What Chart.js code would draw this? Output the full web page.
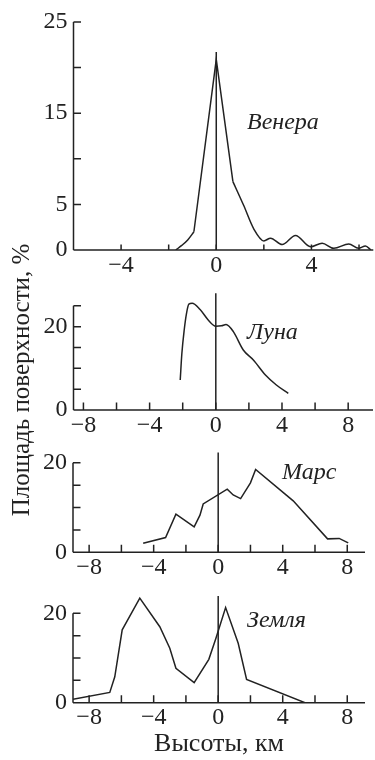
<!DOCTYPE html>
<html><head><meta charset="utf-8">
<script src="https://cdn.jsdelivr.net/npm/chart.js@4.4.1/dist/chart.umd.min.js"></script>
<style>
html,body{margin:0;padding:0;background:#fff;}
body{width:375px;height:760px;position:relative;overflow:hidden;font-family:"Liberation Serif",serif;}
canvas{position:absolute;left:0;}
#ytitle{position:absolute;left:-179px;top:365px;width:400px;height:30px;line-height:30px;text-align:center;font-size:25px;transform:rotate(-90deg);white-space:nowrap;color:#222;font-family:"Liberation Serif",serif;}
</style></head><body>
<canvas id="c0" width="375" height="285" style="top:0px;width:375px;height:285px"></canvas>
<canvas id="c1" width="375" height="155" style="top:285px;width:375px;height:155px"></canvas>
<canvas id="c2" width="375" height="150" style="top:440px;width:375px;height:150px"></canvas>
<canvas id="c3" width="375" height="170" style="top:590px;width:375px;height:170px"></canvas>
<div id="ytitle">Площадь поверхности, %</div>
<script>
// ---- data ----
const panelNames = ['Венера', 'Луна', 'Марс', 'Земля'];
const xTitle = 'Высоты, км';

const venusTailX = [-1.7, -1.45, -1.2, -0.94];
const venusTailY = [0, 0.5, 1.1, 2.0];
const venusPeakX = [-0.94, 0, 0.7];
const venusPeakY = [2.0, 20.9, 7.5];
const venusWaveX = [0.7, 1.15, 1.58, 2.0, 2.28, 2.77, 3.33, 3.96, 4.45, 4.94, 5.57, 5.98, 6.27, 6.5];
const venusWaveY = [7.5, 4.9, 2.3, 1.0, 1.3, 0.6, 1.6, 0.35, 0.75, 0.18, 0.66, 0.18, 0.44, 0];

const moonX = [-2.15, -2.05, -1.91, -1.77, -1.63, -1.43, -0.95, -0.46, 0, 0.34, 0.62, 1.06, 1.66, 2.27, 3.0, 3.66, 4.38];
const moonY = [7.2, 13.6, 19.2, 23.2, 25.4, 25.6, 24.1, 21.6, 20.1, 20.2, 20.5, 18.8, 14.4, 12.0, 8.4, 6.0, 4.0];

const marsX = [-4.65, -3.26, -2.62, -1.49, -1.13, -0.93, 0.56, 0.93, 1.39, 2.0, 2.32, 4.65, 6.78, 7.5, 8.06];
const marsY = [2.0, 3.3, 8.5, 5.7, 8.3, 10.8, 14.1, 12.8, 12.0, 15.5, 18.5, 11.5, 3.0, 3.1, 2.1];

const earthX = [-9.0, -6.72, -6.41, -5.95, -4.86, -3.62, -3.0, -2.62, -1.49, -0.58, -0.14, 0.46, 1.24, 1.76, 5.38];
const earthY = [0.75, 2.3, 5.8, 16.3, 23.4, 17.0, 12.2, 7.7, 4.5, 9.7, 14.4, 21.3, 13.3, 5.2, 0];

// height of the vertical reference line at 0 km, per panel
const zeroLineTop = [21.7, 28, 22.3, 23.9];

const venusXTicks = [-6, -4, -2, 0, 2, 4, 6];
const venusXLabels = [-4, 0, 4];
const wideXTicks = [-8, -6, -4, -2, 0, 2, 4, 6, 8];
const wideXLabels = [-8, -4, 0, 4, 8];
const venusYTicks = [0, 5, 10, 15, 20, 25];
const venusYLabels = [0, 5, 15, 25];
const moonYTicks = [0, 5, 10, 15, 20, 25];
const smallYTicks = [0, 5, 10, 15, 20];
const smallYLabels = [0, 20];

// ---- drawing ----
const FONT = '"Liberation Serif", "Times New Roman", serif';
const INK = '#222';

function pts(xs, ys) { return xs.map((x, i) => ({x: x, y: ys[i]})); }
function fmt(v) { return v < 0 ? '\u2212' + Math.abs(v) : String(v); }

const axesPlugin = {
  id: 'axes',
  afterDatasetsDraw(chart) {
    const p = chart.options.plugins.axes;
    const ctx = chart.ctx, xs = chart.scales.x, ys = chart.scales.y;
    const y0 = ys.getPixelForValue(0), x0 = xs.left;
    ctx.save();
    ctx.strokeStyle = INK; ctx.lineWidth = 1.5; ctx.lineCap = 'butt';
    ctx.beginPath();
    ctx.moveTo(xs.left, y0); ctx.lineTo(xs.right, y0);
    ctx.moveTo(x0, y0); ctx.lineTo(x0, ys.getPixelForValue(p.yTop));
    ys.ticks.forEach(t => { const py = ys.getPixelForValue(t.value); ctx.moveTo(x0, py); ctx.lineTo(x0 + p.yTickLen, py); });
    xs.ticks.forEach(t => { const px = xs.getPixelForValue(t.value); ctx.moveTo(px, y0); ctx.lineTo(px, y0 - p.xTickLen); });
    ctx.stroke();
    ctx.fillStyle = INK;
    ctx.font = 'italic 24px ' + FONT;
    ctx.textBaseline = 'alphabetic'; ctx.textAlign = 'left';
    ctx.fillText(p.name, p.nameX, p.nameY);
    ctx.restore();
  }
};

function line(data, mode) {
  const d = {data: data, showLine: true, pointRadius: 0, borderColor: INK, backgroundColor: INK, borderWidth: 1.5, fill: false, tension: 0};
  if (mode === 'smooth') d.cubicInterpolationMode = 'monotone';
  return d;
}

function makeChart(id, c) {
  return new Chart(document.getElementById(id), {
    type: 'scatter',
    data: {datasets: c.series},
    options: {
      responsive: false, animation: false, events: [],
      layout: {padding: {top: c.padTop, right: c.padRight, left: 0, bottom: 0}},
      plugins: {
        legend: {display: false}, tooltip: {enabled: false},
        axes: {yTop: c.yTop, yTickLen: 7.5, xTickLen: c.xTickLen, name: c.name, nameX: c.nameX, nameY: c.nameY}
      },
      scales: {
        x: {
          type: 'linear', min: c.xmin, max: c.xmax,
          grid: {display: false, drawTicks: false}, border: {display: false},
          afterBuildTicks: s => { s.ticks = c.xTicks.map(v => ({value: v})); },
          afterFit: s => { s.height = c.xH; s.paddingLeft = 0; s.paddingRight = 0; },
          ticks: {autoSkip: false, maxRotation: 0, padding: 1, color: INK, font: {family: FONT, size: 24},
                  callback: v => c.xLabels.includes(v) ? fmt(v) : ''},
          title: c.xTitle ? {display: true, text: c.xTitle, color: INK, font: {family: FONT, size: 26}, padding: {top: 0, bottom: 0}} : {display: false}
        },
        y: {
          type: 'linear', min: 0, max: c.ymax,
          grid: {display: false, drawTicks: false}, border: {display: false},
          afterBuildTicks: s => { s.ticks = c.yTicks.map(v => ({value: v})); },
          afterFit: s => { s.width = c.L; s.paddingTop = 0; s.paddingBottom = 0; },
          ticks: {autoSkip: false, padding: 6, color: INK, font: {family: FONT, size: 24},
                  callback: v => c.yLabels.includes(v) ? fmt(v) : ''}
        }
      }
    },
    plugins: [axesPlugin]
  });
}

function zero(i) { return line([{x: 0, y: 0}, {x: 0, y: zeroLineTop[i]}], 'straight'); }

makeChart('c0', {
  series: [line(pts(venusTailX, venusTailY), 'smooth'), line(pts(venusPeakX, venusPeakY), 'straight'),
           line(pts(venusWaveX, venusWaveY), 'smooth'), zero(0)],
  padTop: 22, padRight: 1.7, L: 73.5, xH: 35, xmin: -6, xmax: 6.6, ymax: 25, yTop: 25,
  xTicks: venusXTicks, xLabels: venusXLabels, yTicks: venusYTicks, yLabels: venusYLabels,
  xTickLen: 5.5, name: panelNames[0], nameX: 247, nameY: 128.5
});
makeChart('c1', {
  series: [line(pts(moonX, moonY), 'smooth'), zero(1)],
  padTop: 6.2, padRight: 2, L: 73.5, xH: 30, xmin: -8.6, xmax: 9.5, ymax: 28.5, yTop: 25,
  xTicks: wideXTicks, xLabels: wideXLabels, yTicks: moonYTicks, yLabels: smallYLabels,
  xTickLen: 7.5, name: panelNames[1], nameX: 247, nameY: 53.5
});
makeChart('c2', {
  series: [line(pts(marsX, marsY), 'straight'), zero(2)],
  padTop: 9.3, padRight: 10, L: 73, xH: 37.7, xmin: -9.0, xmax: 9.1, ymax: 23, yTop: 20,
  xTicks: wideXTicks, xLabels: wideXLabels, yTicks: smallYTicks, yLabels: smallYLabels,
  xTickLen: 7.5, name: panelNames[2], nameX: 282, nameY: 38.5
});
makeChart('c3', {
  series: [line(pts(earthX, earthY), 'straight'), zero(3)],
  padTop: 3.2, padRight: 10, L: 73, xH: 57.3, xmin: -9.0, xmax: 9.1, ymax: 24.5, yTop: 20,
  xTicks: wideXTicks, xLabels: wideXLabels, yTicks: smallYTicks, yLabels: smallYLabels,
  xTickLen: 7.5, name: panelNames[3], nameX: 247, nameY: 37, xTitle: xTitle
});
</script>
</body></html>
